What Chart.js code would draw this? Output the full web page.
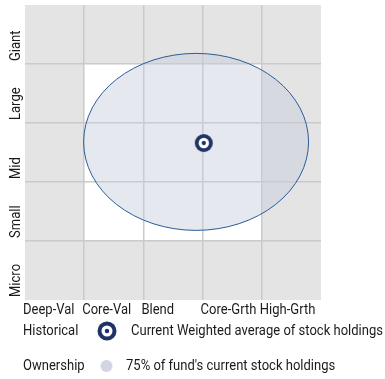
<!DOCTYPE html>
<html>
<head>
<meta charset="utf-8">
<script src="https://cdn.jsdelivr.net/npm/chart.js@4/dist/chart.umd.min.js"></script>
<style>
  html, body { margin: 0; padding: 0; background: #fff; }
  #wrap { width: 385px; height: 379px; position: relative; }
</style>
</head>
<body>
<div id="wrap"><canvas id="style-box"></canvas></div>
<script>
// Style box axes
const styleLabels = ['Deep-Val', 'Core-Val', 'Blend', 'Core-Grth', 'High-Grth'];
const sizeLabels = ['Micro', 'Small', 'Mid', 'Large', 'Giant'];

// Historical range (white cells): [xFrom, xTo], [yFrom, yTo]
const historicalX = [1, 4];
const historicalY = [1, 4];

// Ownership zone ellipse: centre and radii in style-box units
const zoneCenter = [2.89, 2.68];
const zoneRadius = [1.9, 1.5];

// Current weighted average of holdings
const centroidX = [3.02];
const centroidY = [2.66];

const FONT = "14px Roboto, 'Liberation Sans', sans-serif";
const TEXT = '#1a1a1a';
const NAVY = '#1f3366';
const GREY_CELL = '#e4e4e4';
const ZONE_FILL = 'rgba(200, 203, 222, 0.45)';
const ZONE_LINE = '#2b5c9a';

// target marker used on the chart and in the legend
const drawTarget = (ctx, x, y, r) => {
    ctx.save();
    ctx.fillStyle = NAVY;
    ctx.beginPath(); ctx.arc(x, y, r, 0, Math.PI * 2); ctx.fill();
    ctx.fillStyle = '#fff';
    ctx.beginPath(); ctx.arc(x, y, r * 0.58, 0, Math.PI * 2); ctx.fill();
    ctx.fillStyle = NAVY;
    ctx.beginPath(); ctx.arc(x, y, r * 0.24, 0, Math.PI * 2); ctx.fill();
    ctx.restore();
};

const makeTargetCanvas = (r) => {
    const c = document.createElement('canvas');
    c.width = c.height = r * 2 + 2;
    drawTarget(c.getContext('2d'), r + 1, r + 1, r);
    return c;
};

// narrow the text a little, like a condensed face
const drawText = (ctx, txt, x, y) => {
    ctx.save();
    ctx.translate(x, y);
    ctx.scale(0.93, 1);
    ctx.fillText(txt, 0, 0);
    ctx.restore();
};

const styleBoxPlugin = {
    id: 'styleBox',
    beforeDraw(chart) {
        const { ctx, chartArea: a, scales: { x, y } } = chart;
        ctx.save();
        ctx.fillStyle = GREY_CELL;
        ctx.fillRect(a.left, a.top, a.right - a.left, a.bottom - a.top);
        // historical cells are left white
        const hx0 = x.getPixelForValue(historicalX[0]), hx1 = x.getPixelForValue(historicalX[1]);
        const hy0 = y.getPixelForValue(historicalY[1]), hy1 = y.getPixelForValue(historicalY[0]);
        ctx.fillStyle = '#fff';
        ctx.fillRect(hx0, hy0, hx1 - hx0, hy1 - hy0);
        ctx.restore();
    },
    beforeDatasetsDraw(chart) {
        const { ctx, scales: { x, y } } = chart;
        const cx = x.getPixelForValue(zoneCenter[0]);
        const cy = y.getPixelForValue(zoneCenter[1]);
        const rx = x.getPixelForValue(zoneCenter[0] + zoneRadius[0]) - cx;
        const ry = cy - y.getPixelForValue(zoneCenter[1] + zoneRadius[1]);
        ctx.save();
        ctx.beginPath();
        ctx.ellipse(cx, cy, rx, ry, 0, 0, Math.PI * 2);
        ctx.fillStyle = ZONE_FILL;
        ctx.fill();
        ctx.lineWidth = 1;
        ctx.strokeStyle = ZONE_LINE;
        ctx.stroke();
        ctx.restore();
    },
    afterDraw(chart) {
        const { ctx, chartArea: a, scales: { x, y } } = chart;
        ctx.save();
        ctx.font = FONT;
        ctx.fillStyle = TEXT;
        ctx.textAlign = 'left';
        ctx.textBaseline = 'middle';
        // style labels under each column, left aligned to the column edge
        styleLabels.forEach((lbl, i) => {
            drawText(ctx, lbl, x.getPixelForValue(i) - 2, a.bottom + 10);
        });
        // size labels, rotated, ending at the bottom of each row
        sizeLabels.forEach((lbl, i) => {
            ctx.save();
            ctx.translate(a.left - 9, y.getPixelForValue(i) - 3);
            ctx.rotate(-Math.PI / 2);
            drawText(ctx, lbl, 0, 0);
            ctx.restore();
        });
        // legend
        const row1 = a.bottom + 31, row2 = a.bottom + 66;
        drawText(ctx, 'Historical', a.left - 2, row1);
        drawTarget(ctx, 107, row1, 9.5);
        drawText(ctx, 'Current Weighted average of stock holdings', 131, row1);
        drawText(ctx, 'Ownership', a.left - 2, row2);
        ctx.beginPath();
        ctx.arc(106.5, row2, 6, 0, Math.PI * 2);
        ctx.fillStyle = '#d3d5e3';
        ctx.fill();
        ctx.fillStyle = TEXT;
        drawText(ctx, "75% of fund's current stock holdings", 126, row2);
        ctx.restore();
    }
};

const gridLine = (ctx) => (ctx.tick.value > 0 && ctx.tick.value < 5) ? '#cacaca' : 'rgba(0,0,0,0)';

new Chart(document.getElementById('style-box'), {
    type: 'scatter',
    data: {
        datasets: [{
            label: 'Current Weighted average of stock holdings',
            data: centroidX.map((v, i) => ({ x: v, y: centroidY[i] })),
            pointStyle: makeTargetCanvas(9),
        }]
    },
    options: {
        responsive: true,
        maintainAspectRatio: false,
        animation: false,
        layout: { padding: { left: 25, top: 4, right: 64, bottom: 79 } },
        plugins: { legend: { display: false }, tooltip: { enabled: false } },
        scales: {
            x: {
                min: 0, max: 5,
                ticks: { display: false, stepSize: 1 },
                border: { display: false },
                grid: { color: gridLine, lineWidth: 1.5, drawTicks: false }
            },
            y: {
                min: 0, max: 5,
                ticks: { display: false, stepSize: 1 },
                border: { display: false },
                grid: { color: gridLine, lineWidth: 1.5, drawTicks: false }
            }
        }
    },
    plugins: [styleBoxPlugin]
});
</script>
</body>
</html>
